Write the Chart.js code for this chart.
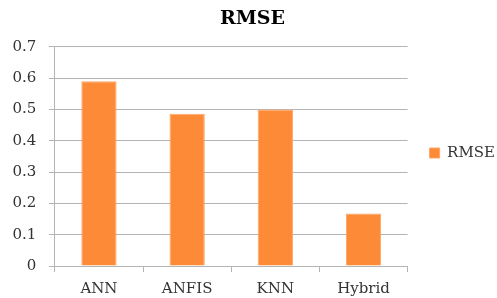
<!DOCTYPE html>
<html lang="en">
<head>
  <meta charset="UTF-8" />
  <title>RMSE</title>
  <script src="https://cdn.jsdelivr.net/npm/chart.js"></script>
  <style>
    html, body { margin: 0; padding: 0; background: #ffffff; }
    #grafico { display: block; }
  </style>
</head>
<body>

  <canvas id="grafico" width="497" height="298"></canvas>

<script>
  // dados do grafico
  var modelos = ['ANN', 'ANFIS', 'KNN', 'Hybrid'];
  var rmse = [0.59, 0.486, 0.5, 0.168];
  var nomeSerie = 'RMSE';
  var eixoMin = 0;
  var eixoMax = 0.7;
  var eixoPasso = 0.1;

  var fonte = "'DejaVu Serif', serif";
  var cinza = '#b4b4b4';

  const data = {
    labels: modelos,
    datasets: [{
      label: nomeSerie,
      data: rmse,
      backgroundColor: '#fd8a37',
      borderColor: '#fda566',
      borderWidth: 1,
      barPercentage: 0.4,
      categoryPercentage: 1
    }]
  };

  const config = {
    type: 'bar',
    data: data,
    options: {
      responsive: false,
      animation: false,
      layout: {
        padding: { left: 0, right: -8, top: 0, bottom: -8 }
      },
      plugins: {
        title: {
          display: true,
          text: nomeSerie,
          color: '#000000',
          font: { family: fonte, size: 19, weight: 'bold' },
          padding: { top: 8, bottom: 16 }
        },
        legend: {
          position: 'right',
          labels: {
            boxWidth: 10,
            boxHeight: 10,
            padding: 22,
            color: '#333333',
            font: { family: fonte, size: 15 }
          }
        },
        tooltip: { enabled: false }
      },
      scales: {
        x: {
          grid: {
            display: true,
            drawOnChartArea: false,
            drawTicks: true,
            tickLength: 6,
            color: cinza
          },
          border: { display: true, color: cinza },
          ticks: {
            color: '#333333',
            padding: 8,
            font: { family: fonte, size: 15 }
          }
        },
        y: {
          min: eixoMin,
          max: eixoMax,
          grid: {
            color: cinza,
            tickLength: 6
          },
          border: { display: true, color: cinza },
          ticks: {
            stepSize: eixoPasso,
            color: '#333333',
            padding: 12.5,
            font: { family: fonte, size: 15 },
            callback: function (v) {
              return v === 0 ? '0' : v.toFixed(1);
            }
          }
        }
      }
    }
  };

  const grafico = new Chart(document.getElementById('grafico'), config);
</script>
</body>
</html>
